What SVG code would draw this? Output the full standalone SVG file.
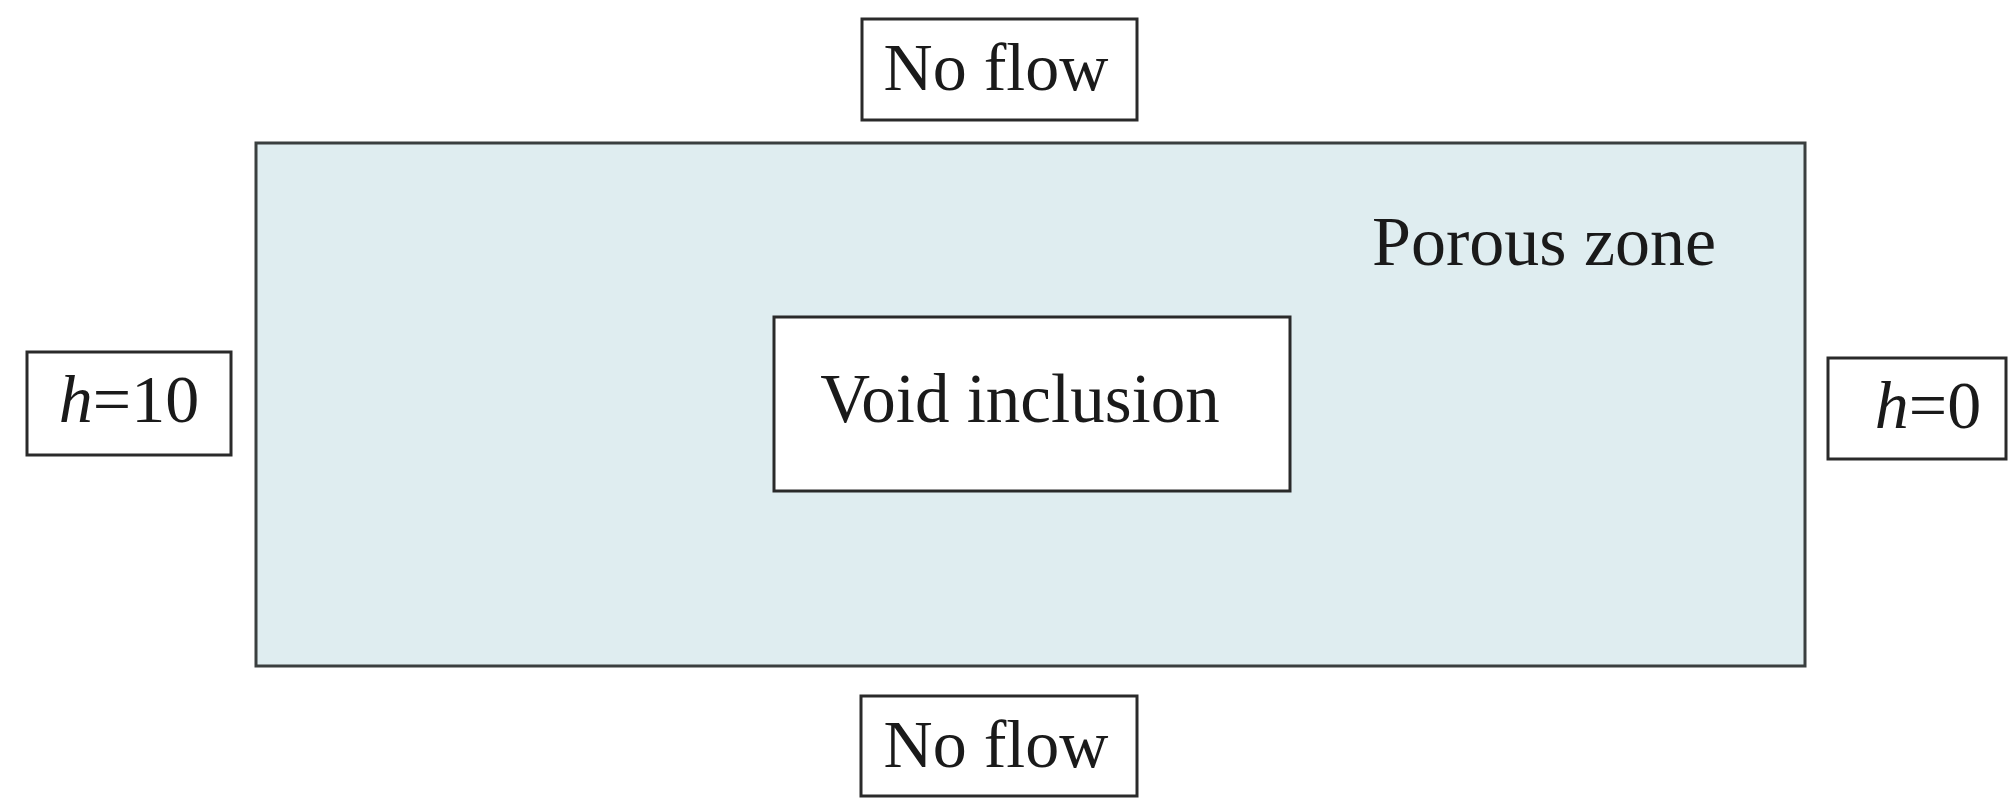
<svg xmlns="http://www.w3.org/2000/svg" width="2008" height="799" viewBox="0 0 2008 799">
<style>
.box{fill:#ffffff;stroke:#2a2a2a;stroke-width:3}
.t{font-family:"Liberation Serif","Times New Roman",serif;font-size:68px;fill:#1a1a1a}
</style>
<rect width="2008" height="799" fill="#ffffff"/>
<g id="porous-zone">
<rect x="256" y="143" width="1549" height="523" fill="#dfedf0" stroke="#3a3f3f" stroke-width="3"/>
<text class="t" x="1372" y="265" style="font-size:70px">Porous zone</text>
</g>
<g id="void-inclusion">
<rect class="box" x="774" y="317" width="516" height="174"/>
<text class="t" x="1020" y="422" text-anchor="middle" style="font-size:69px">Void inclusion</text>
</g>
<g id="top-no-flow">
<rect class="box" x="862" y="19" width="275" height="101"/>
<text class="t" x="996" y="90" text-anchor="middle">No flow</text>
</g>
<g id="bottom-no-flow">
<rect class="box" x="861" y="696" width="276" height="100"/>
<text class="t" x="996" y="767" text-anchor="middle">No flow</text>
</g>
<g id="left-head">
<rect class="box" x="27" y="352" width="204" height="103"/>
<text class="t" x="129" y="422" text-anchor="middle"><tspan font-style="italic">h</tspan>=10</text>
</g>
<g id="right-head">
<rect class="box" x="1828" y="358" width="178" height="101"/>
<text class="t" x="1928" y="428" text-anchor="middle"><tspan font-style="italic">h</tspan>=0</text>
</g>
<g id="connectors"></g>
</svg>
